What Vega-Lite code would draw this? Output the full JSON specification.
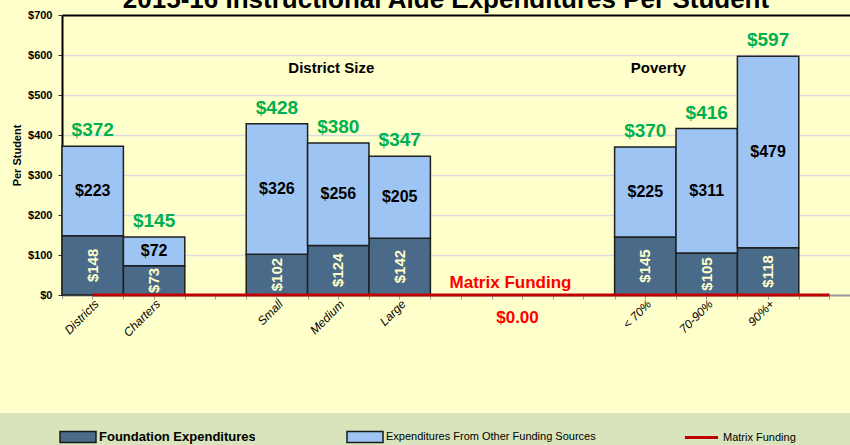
{
  "$schema": "https://vega.github.io/schema/vega-lite/v6.json",
  "width": 788,
  "height": 280,
  "autosize": {"type": "none"},
  "padding": {"left": 62, "top": 15, "right": 0, "bottom": 150},
  "background": "#ffffcc",
  "title": {
    "text": "2015-16 Instructional Aide Expenditures Per Student",
    "fontSize": 26,
    "fontWeight": "bold",
    "font": "Liberation Sans",
    "color": "#000000",
    "anchor": "middle",
    "frame": "group",
    "baseline": "alphabetic",
    "offset": -25,
    "dx": -10
  },
  "config": {
    "font": "Liberation Sans",
    "view": {"stroke": null},
    "axis": {"labelFont": "Liberation Sans", "titleFont": "Liberation Sans"},
    "legend": {
      "orient": "none", "direction": "horizontal", "title": null, "fillColor": "#d8e4bc", "padding": 5,
      "symbolSize": 1296, "labelOffset": 2, "labelLimit": 600, "labelColor": "#000000", "labelFont": "Liberation Sans"
    },
    "axisY": {
      "title": "Per Student", "titleFontSize": 11, "titleFontWeight": "bold", "titleColor": "#000000", "titlePadding": 5,
      "values": [0, 100, 200, 300, 400, 500, 600, 700],
      "labelExpr": "'$' + datum.value",
      "labelFontWeight": "bold", "labelFontSize": 11, "labelColor": "#000000", "labelPadding": 6,
      "domainColor": "#000000", "domainWidth": 2, "tickColor": "#333333", "tickSize": 4,
      "grid": true,
      "gridColor": {"condition": {"test": "datum.value === 700", "value": "#000000"}, "value": "#dcdcdc"},
      "gridWidth": {"condition": {"test": "datum.value === 700", "value": 2}, "value": 1.5}
    }
  },
  "datasets": {
    "bars": [
      {"category": "Districts", "foundation": 148, "other": 223, "total": 372},
      {"category": "Charters", "foundation": 73, "other": 72, "total": 145},
      {"category": "Small", "foundation": 102, "other": 326, "total": 428},
      {"category": "Medium", "foundation": 124, "other": 256, "total": 380},
      {"category": "Large", "foundation": 142, "other": 205, "total": 347},
      {"category": "< 70%", "foundation": 145, "other": 225, "total": 370},
      {"category": "70-90%", "foundation": 105, "other": 311, "total": 416},
      {"category": "90%+", "foundation": 118, "other": 479, "total": 597}
    ],
    "matrix": [
      {"category": "Districts", "matrix": 0},
      {"category": "Charters", "matrix": 0},
      {"category": " ", "matrix": 0},
      {"category": "Small", "matrix": 0},
      {"category": "Medium", "matrix": 0},
      {"category": "Large", "matrix": 0},
      {"category": "  ", "matrix": 0},
      {"category": "   ", "matrix": 0},
      {"category": "    ", "matrix": 0},
      {"category": "< 70%", "matrix": 0},
      {"category": "70-90%", "matrix": 0},
      {"category": "90%+", "matrix": 0},
      {"category": "     ", "matrix": 0}
    ]
  },
  "resolve": {"axis": {"x": "independent"}},
  "layer": [
    {
      "data": {"name": "bars"},
      "mark": {"type": "bar", "stroke": "#1f1f1f", "strokeWidth": 1.5},
      "encoding": {
        "x": {
          "field": "category", "type": "nominal",
          "scale": {
            "domain": ["Districts", "Charters", " ", "Small", "Medium", "Large", "  ", "   ", "    ", "< 70%", "70-90%", "90%+", "     "],
            "range": [0, 798.2], "paddingInner": 0, "paddingOuter": 0
          },
          "axis": {
            "title": null, "orient": "bottom", "tickBand": "extent",
            "labelAngle": -45, "labelFontStyle": "italic", "labelFontSize": 12, "labelColor": "#000000",
            "labelPadding": -1,
            "domainColor": "#999999", "domainWidth": 2, "tickColor": "#999999", "tickSize": 4, "tickWidth": 1
          }
        },
        "y": {
          "field": "foundation", "type": "quantitative",
          "scale": {"domain": [0, 700], "nice": false, "zero": true},
          "axis": {"title": "Per Student", "values": [0, 100, 200, 300, 400, 500, 600, 700]}
        },
        "fill": {
          "datum": "Foundation Expenditures",
          "scale": {"domain": ["Foundation Expenditures"], "range": ["#4a6a8a"]},
          "legend": {
            "legendX": -62, "legendY": 398,
            "symbolType": "M-1,-0.3H1V0.3H-1Z", "symbolStrokeColor": "#1a1a1a", "symbolStrokeWidth": 1.5,
            "symbolOffset": 54, "labelFontSize": 13, "labelFontWeight": "bold"
          }
        }
      }
    },
    {
      "data": {"name": "bars"},
      "mark": {"type": "bar", "stroke": "#1f1f1f", "strokeWidth": 1.5},
      "encoding": {
        "x": {"field": "category", "type": "nominal", "axis": null},
        "y": {"field": "foundation", "type": "quantitative", "axis": {"title": "Per Student", "values": [0, 100, 200, 300, 400, 500, 600, 700]}},
        "y2": {"field": "total"},
        "color": {
          "datum": "Expenditures From Other Funding Sources",
          "scale": {"domain": ["Expenditures From Other Funding Sources"], "range": ["#9ec4f3"]},
          "legend": {
            "legendX": 193, "legendY": 398,
            "symbolType": "M-1,-0.3H1V0.3H-1Z", "symbolStrokeColor": "#1a1a1a", "symbolStrokeWidth": 1.5,
            "symbolOffset": 86, "labelFontSize": 11, "labelFontWeight": "normal"
          }
        }
      }
    },
    {
      "data": {"name": "matrix"},
      "mark": {"type": "line", "strokeWidth": 3},
      "encoding": {
        "x": {
          "field": "category", "type": "nominal",
          "axis": {"title": null, "orient": "bottom", "labels": false, "domain": false, "tickColor": "#999999", "tickSize": 4, "tickWidth": 1}
        },
        "y": {"field": "matrix", "type": "quantitative", "axis": {"title": "Per Student", "values": [0, 100, 200, 300, 400, 500, 600, 700]}},
        "stroke": {
          "datum": "Matrix Funding",
          "scale": {"domain": ["Matrix Funding"], "range": ["#c00000"]},
          "legend": {
            "legendX": 534, "legendY": 398,
            "symbolType": "M-0.92,0H0.92M8.9,0H8.91", "symbolStrokeWidth": 3, "symbolFillColor": "transparent",
            "symbolOffset": 81, "labelFontSize": 11, "labelFontWeight": "normal"
          }
        }
      }
    },
    {
      "data": {"name": "bars"},
      "transform": [{"calculate": "datum.foundation / 2", "as": "mid_f"}],
      "mark": {"type": "text", "angle": 270, "fontSize": 15, "fontWeight": "bold", "color": "#ffffcc", "baseline": "middle", "align": "center"},
      "encoding": {
        "x": {"field": "category", "type": "nominal", "axis": null},
        "y": {"field": "mid_f", "type": "quantitative", "axis": {"title": "Per Student", "values": [0, 100, 200, 300, 400, 500, 600, 700]}},
        "text": {"field": "foundation", "type": "quantitative", "format": "$d"}
      }
    },
    {
      "data": {"name": "bars"},
      "transform": [{"calculate": "(datum.foundation + datum.total) / 2", "as": "mid_o"}],
      "mark": {"type": "text", "fontSize": 16, "fontWeight": "bold", "color": "#000000", "baseline": "middle", "align": "center"},
      "encoding": {
        "x": {"field": "category", "type": "nominal", "axis": null},
        "y": {"field": "mid_o", "type": "quantitative", "axis": {"title": "Per Student", "values": [0, 100, 200, 300, 400, 500, 600, 700]}},
        "text": {"field": "other", "type": "quantitative", "format": "$d"}
      }
    },
    {
      "data": {"name": "bars"},
      "mark": {"type": "text", "fontSize": 19, "fontWeight": "bold", "color": "#00b050", "baseline": "middle", "align": "center", "dy": -16},
      "encoding": {
        "x": {"field": "category", "type": "nominal", "axis": null},
        "y": {"field": "total", "type": "quantitative", "axis": {"title": "Per Student", "values": [0, 100, 200, 300, 400, 500, 600, 700]}},
        "text": {"field": "total", "type": "quantitative", "format": "$d"}
      }
    },
    {
      "data": {"name": "matrix"},
      "transform": [{"filter": "datum.category === '   '"}],
      "mark": {"type": "text", "fontSize": 17, "fontWeight": "bold", "color": "#ff0000", "baseline": "middle", "align": "center", "dy": 23, "dx": -5},
      "encoding": {
        "x": {"field": "category", "type": "nominal", "axis": null},
        "y": {"field": "matrix", "type": "quantitative", "axis": {"title": "Per Student", "values": [0, 100, 200, 300, 400, 500, 600, 700]}},
        "text": {"field": "matrix", "type": "quantitative", "format": "$.2f"}
      }
    },
    {
      "data": {"values": [{}]},
      "mark": {"type": "text", "text": "Matrix Funding", "fontSize": 17, "fontWeight": "bold", "color": "#ff0000", "baseline": "alphabetic", "align": "center", "dy": -7, "dx": -12},
      "encoding": {
        "x": {"datum": "   ", "type": "nominal", "axis": null},
        "y": {"datum": 0, "type": "quantitative", "axis": {"title": "Per Student", "values": [0, 100, 200, 300, 400, 500, 600, 700]}}
      }
    },
    {
      "data": {"values": [{}]},
      "mark": {"type": "text", "text": "District Size", "fontSize": 15, "fontWeight": "bold", "color": "#000000", "baseline": "middle", "align": "center", "dx": -7},
      "encoding": {
        "x": {"datum": "Medium", "type": "nominal", "axis": null},
        "y": {"datum": 567, "type": "quantitative", "axis": {"title": "Per Student", "values": [0, 100, 200, 300, 400, 500, 600, 700]}}
      }
    },
    {
      "data": {"values": [{}]},
      "mark": {"type": "text", "text": "Poverty", "fontSize": 15, "fontWeight": "bold", "color": "#000000", "baseline": "middle", "align": "center", "dx": 13},
      "encoding": {
        "x": {"datum": "< 70%", "type": "nominal", "axis": null},
        "y": {"datum": 567, "type": "quantitative", "axis": {"title": "Per Student", "values": [0, 100, 200, 300, 400, 500, 600, 700]}}
      }
    }
  ]
}
